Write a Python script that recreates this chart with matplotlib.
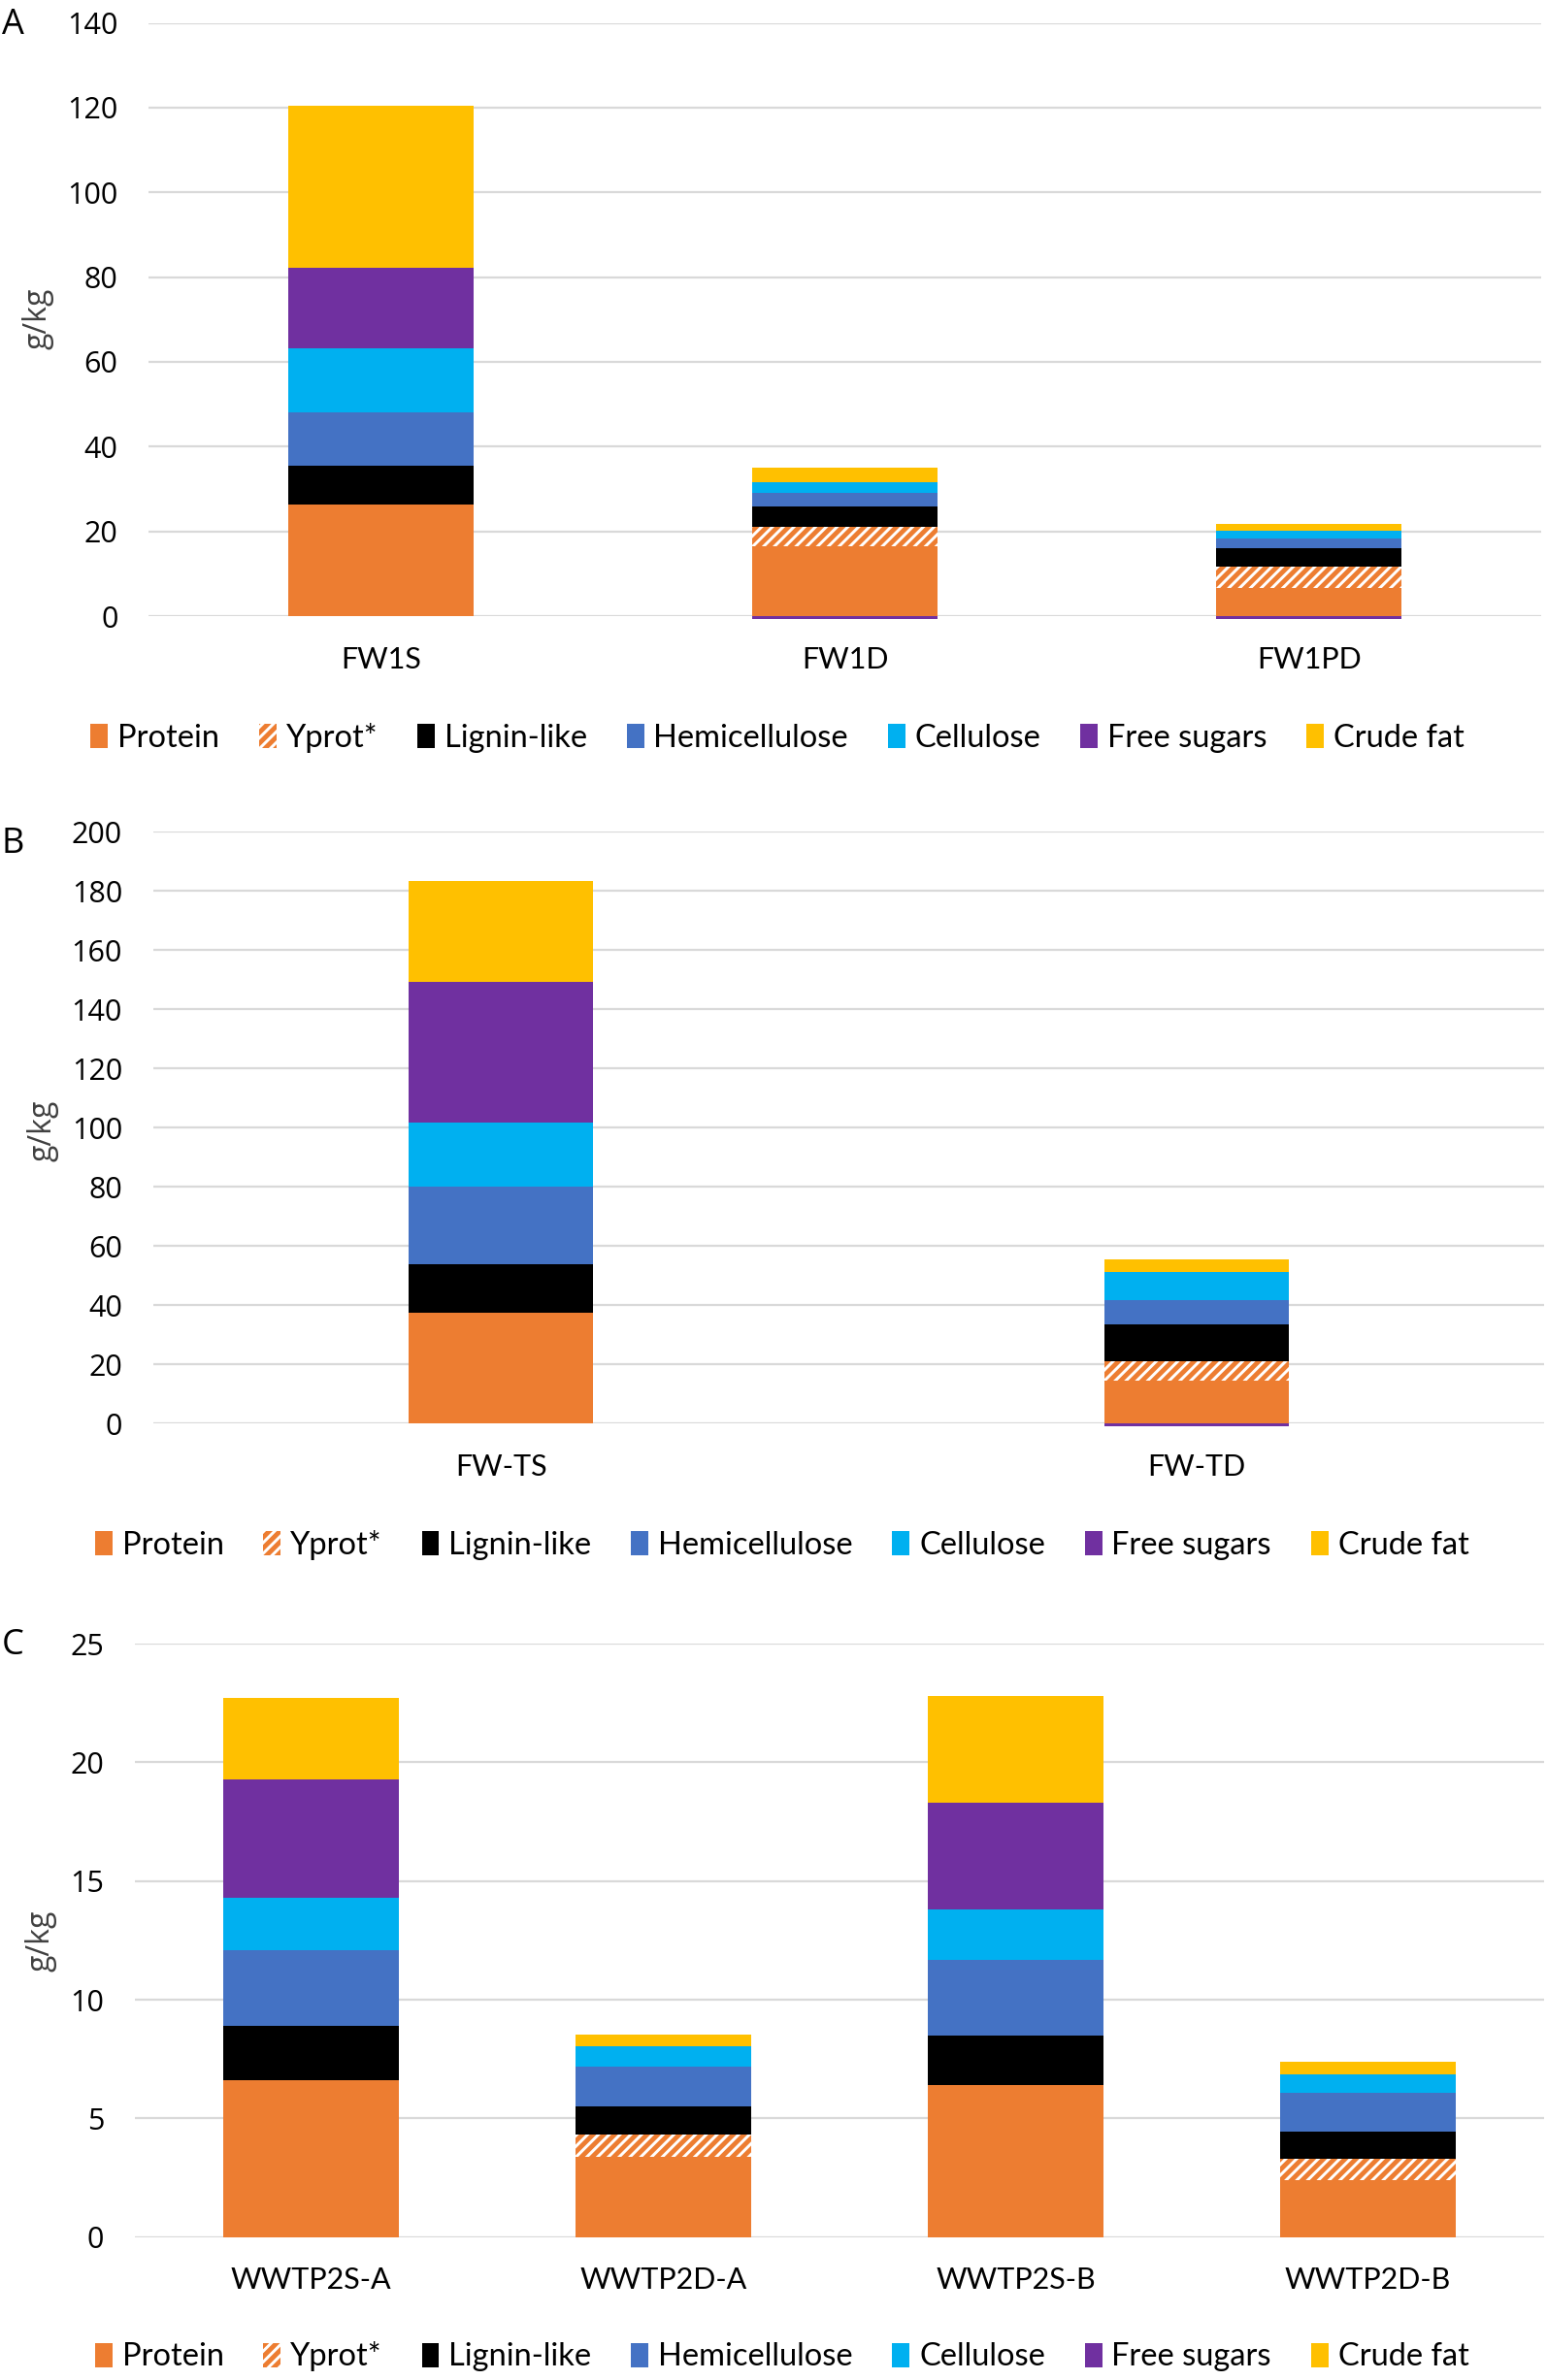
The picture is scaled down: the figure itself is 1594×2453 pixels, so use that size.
import numpy as np
import matplotlib.pyplot as plt
from matplotlib.patches import Patch

plt.rcParams['font.family'] = ['Lato', 'DejaVu Sans']
plt.rcParams['hatch.linewidth'] = 3.5

# components, bottom to top of each stack
components = ["Protein", "Yprot*", "Lignin-like", "Hemicellulose",
              "Cellulose", "Free sugars", "Crude fat"]
colors = ["#ED7D31", "#ED7D31", "#000000", "#4472C4",
          "#00B0F0", "#7030A0", "#FFC000"]

# panel A
cats_a = ["FW1S", "FW1D", "FW1PD"]
protein_a = [26.3, 16.6, 6.7]
yprot_a = [0.0, 4.4, 5.0]
lignin_a = [9.2, 4.9, 4.3]
hemi_a = [12.6, 3.1, 2.4]
cell_a = [15.1, 2.7, 1.7]
sugars_a = [18.9, -0.6, -0.6]
fat_a = [38.4, 3.4, 1.6]

# panel B
cats_b = ["FW-TS", "FW-TD"]
protein_b = [37.5, 14.6]
yprot_b = [0.0, 6.5]
lignin_b = [16.4, 12.5]
hemi_b = [26.1, 8.0]
cell_b = [21.8, 9.5]
sugars_b = [47.5, -0.8]
fat_b = [33.9, 4.3]

# panel C
cats_c = ["WWTP2S-A", "WWTP2D-A", "WWTP2S-B", "WWTP2D-B"]
protein_c = [6.6, 3.4, 6.4, 2.4]
yprot_c = [0.0, 0.93, 0.0, 0.91]
lignin_c = [2.3, 1.18, 2.1, 1.12]
hemi_c = [3.2, 1.67, 3.2, 1.66]
cell_c = [2.2, 0.87, 2.1, 0.78]
sugars_c = [5.0, 0.0, 4.5, 0.0]
fat_c = [3.4, 0.5, 4.5, 0.51]

fig = plt.figure(figsize=(15.94, 24.53), dpi=100)


def panel(rect, cats, series, ymax, step, width, letter, lx, ly, leg_x, leg_y, ylab_xy):
    ax = fig.add_axes(rect)
    x = np.arange(len(cats))
    pos = np.zeros(len(cats))
    neg = np.zeros(len(cats))
    for name, vals, col in zip(components, series, colors):
        vals = np.array(vals, dtype=float)
        bottom = np.where(vals >= 0, pos, neg)
        if name == "Yprot*":
            bars = ax.bar(x, vals, width, bottom=bottom, facecolor="white",
                          edgecolor=col, hatch="///", linewidth=0, zorder=3)
        else:
            bars = ax.bar(x, vals, width, bottom=bottom, color=col, linewidth=0, zorder=3)
        for b in bars:
            b.set_clip_on(False)
        pos = pos + np.where(vals >= 0, vals, 0)
        neg = neg + np.where(vals < 0, vals, 0)
    ax.set_xlim(-0.5, len(cats) - 0.5)
    ax.set_ylim(0, ymax)
    ax.set_yticks(np.arange(0, ymax + step / 2, step))
    ax.set_xticks(x)
    ax.set_xticklabels(cats, fontsize=22)
    ax.tick_params(axis="y", length=0, pad=23, labelsize=22, labelfontfamily='Open Sans')
    ax.tick_params(axis="x", length=0, pad=22)
    ax.yaxis.grid(True, color="#D9D9D9", linewidth=1.6, zorder=0)
    ax.set_axisbelow(True)
    for s in ["top", "right", "left", "bottom"]:
        ax.spines[s].set_visible(False)
    fig.text(lx, ly, letter, fontsize=26, family=['Open Sans'], va="center", ha="left")
    fig.text(ylab_xy[0], ylab_xy[1], "g/kg", fontsize=23, rotation=90,
             color="#404040", va="center", ha="center", family=['Open Sans'])
    handles = []
    for name, col in zip(components, colors):
        if name == "Yprot*":
            handles.append(Patch(facecolor="white", edgecolor=col, hatch="///",
                                 linewidth=0, label=name))
        else:
            handles.append(Patch(facecolor=col, linewidth=0, label=name))
    fig.legend(handles=handles, loc="center", bbox_to_anchor=(leg_x, leg_y),
               ncol=7, frameon=False, fontsize=23.5, handlelength=0.55,
               handleheight=0.8, handletextpad=0.3, columnspacing=1.25)
    return ax


panel([0.0962, 0.7411, 0.9, 0.2493], cats_a,
      [protein_a, yprot_a, lignin_a, hemi_a, cell_a, sugars_a, fat_a],
      140, 20, 0.4, "A", 0.001, 0.9895, 0.5026, 1 - 760 / 2453, (0.0245, 1 - 328 / 2453))

panel([0.0991, 0.4018, 0.899, 0.2488], cats_b,
      [protein_b, yprot_b, lignin_b, hemi_b, cell_b, sugars_b, fat_b],
      200, 20, 0.265, "B", 0.001, 1 - 870 / 2453, 0.5054, 1 - 1592 / 2453, (0.0276, 1 - 1165 / 2453))

panel([0.0873, 0.0600, 0.9107, 0.2494], cats_c,
      [protein_c, yprot_c, lignin_c, hemi_c, cell_c, sugars_c, fat_c],
      25, 5, 0.5, "C", 0.001, 1 - 1696 / 2453, 0.5054, 1 - 2429 / 2453, (0.0264, 1 - 2000 / 2453))

fig.savefig("out.png", dpi=100, facecolor="white")
